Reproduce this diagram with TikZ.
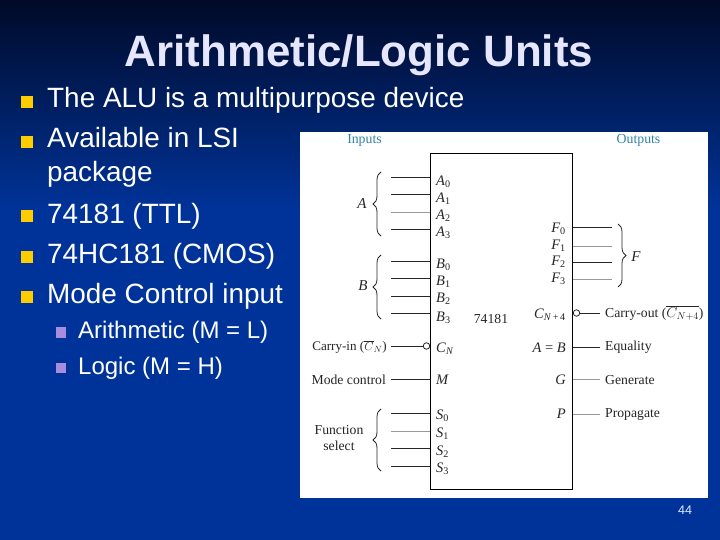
\documentclass[tikz,border=0pt]{standalone}
\usepackage{fontspec}
\setmainfont{Liberation Sans}
\newfontfamily\figfont{Liberation Serif}
\usetikzlibrary{decorations.pathreplacing}
\definecolor{slideblue}{RGB}{0,51,153}
\definecolor{slidetop}{RGB}{0,10,40}
\definecolor{titletext}{RGB}{230,230,255}
\definecolor{bulletgold}{RGB}{255,204,0}
\definecolor{bulletlilac}{RGB}{170,140,222}
\definecolor{headteal}{RGB}{50,130,165}
\newcommand{\pinname}[2]{\textit{#1}\textsubscript{#2}}
\tikzset{
  titlelabel/.style={text=titletext,font=\fontsize{43.9}{43.9}\selectfont\bfseries,anchor=base},
  mainitem/.style={text=white,font=\fontsize{27.9}{27.9}\selectfont,anchor=base west,inner sep=0pt},
  subitem/.style={text=white,font=\fontsize{24}{24}\selectfont,anchor=base west,inner sep=0pt},
  mainbullet/.style={fill=bulletgold,minimum size=12pt,inner sep=0pt},
  subbullet/.style={fill=bulletlilac,minimum size=10.5pt,inner sep=0pt},
  figtext/.style={text=black!85,font=\figfont\fontsize{13.7}{15.5}\selectfont,inner sep=0pt},
  pinleft/.style={text=black!85,font=\figfont\fontsize{14.5}{14.5}\selectfont,anchor=west,inner sep=0pt},
  pinright/.style={text=black!85,font=\figfont\fontsize{14.5}{14.5}\selectfont,anchor=east,inner sep=0pt},
  buslabel/.style={text=black!85,font=\figfont\itshape\fontsize{15}{15}\selectfont,inner sep=0pt},
  headlabel/.style={text=headteal,font=\figfont\fontsize{13.8}{13.8}\selectfont,inner sep=0pt},
  pinline/.style={draw=black!85,line width=1pt},
  faintline/.style={draw=black!40,line width=1pt},
  busbrace/.style={draw=black!85,line width=0.8pt,decorate,decoration={brace,amplitude=8pt}},
}
\begin{document}
\begin{tikzpicture}[x=1pt,y=-1pt]
  \useasboundingbox (0,0) rectangle (720,540);
  \shade[top color=slidetop,bottom color=slideblue] (0,0) rectangle (720,210);
  \fill[slideblue] (0,210) rectangle (720,540);

  \node[titlelabel] (title) at (359,67) {Arithmetic/Logic Units};

  \node[mainbullet] (bul1) at (27,102) {};\node[mainitem] (item1) at (47,108) {The ALU is a multipurpose device};
  \node[mainbullet] (bul2) at (27,142) {};\node[mainitem] (item2) at (47,148) {Available in LSI};
  \node[mainitem] (item2b) at (47,182) {package};
  \node[mainbullet] (bul3) at (27,216) {};\node[mainitem] (item3) at (47,223) {74181 (TTL)};
  \node[mainbullet] (bul4) at (27,257) {};\node[mainitem] (item4) at (47,263) {74HC181 (CMOS)};
  \node[mainbullet] (bul5) at (27,297) {};\node[mainitem] (item5) at (47,303) {Mode Control input};
  \node[subbullet] (sub1) at (61,332.5) {};\node[subitem] (subitem1) at (78,338) {Arithmetic (M = L)};
  \node[subbullet] (sub2) at (61,368) {};\node[subitem] (subitem2) at (78,374) {Logic (M = H)};

  \fill[white] (300,132) rectangle (708,498);
  \node[draw=black,line width=1pt,minimum width=142.5pt,minimum height=335pt,inner sep=0pt] (chip) at (501.25,321.5) {};
  \node[figtext] (chipname) at (491,319) {74181};

  \node[headlabel] (inputs) at (364.5,140) {Inputs};
  \node[headlabel] (outputs) at (638.5,140) {Outputs};

  % left pins
  \node[pinleft] (a0) at (436,182) {\pinname{A}{0}};\node[pinleft] (a1) at (436,198.5) {\pinname{A}{1}};\node[pinleft] (a2) at (436,216) {\pinname{A}{2}};\node[pinleft] (a3) at (436,233) {\pinname{A}{3}};
  \node[pinleft] (b0) at (436,264.5) {\pinname{B}{0}};\node[pinleft] (b1) at (436,281.5) {\pinname{B}{1}};\node[pinleft] (b2) at (436,299) {\pinname{B}{2}};\node[pinleft] (b3) at (436,318) {\pinname{B}{3}};
  \node[pinleft] (cn) at (436,349) {\pinname{C}{\textit{N}}};\node[pinleft] (mm) at (436,380) {\textit{M}};
  \node[pinleft] (s0) at (436,416) {\pinname{S}{0}};\node[pinleft] (s1) at (436,433.5) {\pinname{S}{1}};\node[pinleft] (s2) at (436,452) {\pinname{S}{2}};\node[pinleft] (s3) at (436,468.5) {\pinname{S}{3}};

  \coordinate (a0w) at (391,178);\coordinate (a1w) at (391,195);\coordinate (a2w) at (391,212.5);\coordinate (a3w) at (391,230);
  \coordinate (b0w) at (391,261);\coordinate (b1w) at (391,278);\coordinate (b2w) at (391,296);\coordinate (b3w) at (391,313.5);
  \coordinate (s0w) at (391,413);\coordinate (s1w) at (391,431);\coordinate (s2w) at (391,448);\coordinate (s3w) at (391,466);
  \draw[pinline] (a0w) -- (a0w -| chip.west);\draw[pinline] (a1w) -- (a1w -| chip.west);\draw[faintline] (a2w) -- (a2w -| chip.west);\draw[pinline] (a3w) -- (a3w -| chip.west);
  \draw[pinline] (b0w) -- (b0w -| chip.west);\draw[pinline] (b1w) -- (b1w -| chip.west);\draw[pinline] (b2w) -- (b2w -| chip.west);\draw[pinline] (b3w) -- (b3w -| chip.west);
  \draw[pinline] (s0w) -- (s0w -| chip.west);\draw[faintline] (s1w) -- (s1w -| chip.west);\draw[pinline] (s2w) -- (s2w -| chip.west);\draw[pinline] (s3w) -- (s3w -| chip.west);

  \node[figtext,font=\figfont\fontsize{13.1}{15}\selectfont,anchor=east] (carryin) at (387,347) {Carry-in ($\overline{C}_N$)};
  \node[figtext,anchor=east] (modectl) at (386,380) {Mode control};
  \node[draw=black!85,fill=white,circle,line width=0.8pt,minimum size=6.5pt,inner sep=0pt] (cnbub) at (426.5,346) {};
  \coordinate (cnw) at (391,346);\coordinate (mw) at (391,379);
  \draw[pinline] (cnw) -- (cnbub.west);
  \draw[pinline] (mw) -- (mw -| chip.west);

  \coordinate (bra) at (381,172);\coordinate (brb) at (381,236);
  \coordinate (brc) at (381,255);\coordinate (brd) at (381,319);
  \coordinate (bre) at (381,409);\coordinate (brf) at (381,471);
  \draw[busbrace] (brb) -- (bra);\draw[busbrace] (brd) -- (brc);\draw[busbrace] (brf) -- (bre);
  \node[buslabel] (alabel) at (362,204) {A};
  \node[buslabel] (blabel) at (363,286) {B};
  \node[figtext,align=center] (fsel) at (339,438) {Function\\select};

  % right pins
  \node[pinright] (f0) at (566,229) {\pinname{F}{0}};\node[pinright] (f1) at (566,246) {\pinname{F}{1}};\node[pinright] (f2) at (566,262) {\pinname{F}{2}};\node[pinright] (f3) at (566,279) {\pinname{F}{3}};
  \node[pinright] (cn4) at (566,315) {\pinname{C}{\textit{N}\,+\,4}};\node[pinright] (aeqb) at (566,348) {\textit{A} = \textit{B}};\node[pinright] (gg) at (566,380) {\textit{G}};\node[pinright] (pp) at (566,414) {\textit{P}};

  \coordinate (f0e) at (612,228);\coordinate (f1e) at (612,246);\coordinate (f2e) at (612,262);\coordinate (f3e) at (612,279);
  \draw[pinline] (f0e -| chip.east) -- (f0e);\draw[faintline] (f1e -| chip.east) -- (f1e);\draw[pinline] (f2e -| chip.east) -- (f2e);\draw[faintline] (f3e -| chip.east) -- (f3e);

  \node[figtext,anchor=west] (carryout) at (605,313) {Carry-out ($\overline{C_{N+4}}$)};
  \node[figtext,anchor=west] (equality) at (605,347.5) {Equality};
  \node[figtext,anchor=west] (generate) at (605,380) {Generate};
  \node[figtext,anchor=west] (propagate) at (605,414.5) {Propagate};
  \coordinate (coe) at (600,313);\coordinate (eqe) at (600,347);\coordinate (gee) at (600,379.5);\coordinate (pre) at (600,414);
  \node[draw=black!85,fill=white,circle,line width=0.8pt,minimum size=6.5pt,inner sep=0pt] (cobub) at (576.5,313) {};
  \draw[pinline] (cobub.east) -- (coe);
  \draw[pinline] (eqe -| chip.east) -- (eqe);
  \draw[faintline] (gee -| chip.east) -- (gee);
  \draw[faintline] (pre -| chip.east) -- (pre);

  \coordinate (brg) at (618,224);\coordinate (brh) at (618,287);
  \draw[busbrace] (brg) -- (brh);
  \node[buslabel] (flabel) at (636,257) {F};

  \node[text=titletext,font=\fontsize{12.5}{12.5}\selectfont,inner sep=0pt] (pagenum) at (685,510) {44};
\end{tikzpicture}
\end{document}
